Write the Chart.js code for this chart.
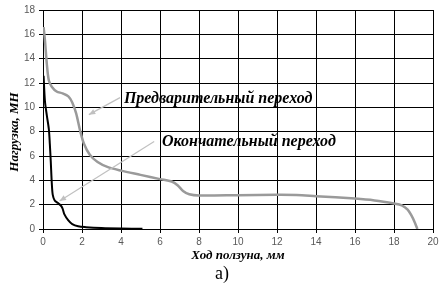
<!DOCTYPE html>
<html>
<head>
<meta charset="utf-8">
<script src="https://cdn.jsdelivr.net/npm/chart.js@4"></script>
<style>
  html, body { margin: 0; padding: 0; background: #fff; }
  #wrap { position: relative; width: 444px; height: 286px; }
</style>
</head>
<body>
<div id="wrap"><canvas id="chart" width="444" height="286"></canvas></div>
<script>
/* ── Data ─────────────────────────────────────────────────────────── */
// Предварительный переход (gray)
const prelimX = [0.03, 0.1, 0.2, 0.3, 0.45, 0.7, 1.0, 1.3, 1.5, 1.7, 1.9, 2.1, 2.4, 2.8, 3.3, 4.0, 5.0, 6.0, 6.6, 6.9, 7.2, 7.5, 8.0, 10, 12, 13, 14, 16, 17, 18, 18.4, 18.7, 18.9, 19.05, 19.2];
const prelimY = [16.6, 15.5, 13.5, 12.2, 11.7, 11.3, 11.15, 10.9, 10.4, 9.5, 8.1, 7.0, 6.1, 5.5, 5.1, 4.8, 4.45, 4.1, 3.9, 3.6, 3.1, 2.85, 2.75, 2.78, 2.82, 2.8, 2.7, 2.5, 2.35, 2.1, 1.95, 1.6, 1.1, 0.6, 0];

// Окончательный переход (black)
const finalX = [0.03, 0.1, 0.2, 0.3, 0.35, 0.4, 0.45, 0.5, 0.6, 0.75, 0.9, 1.0, 1.1, 1.3, 1.5, 1.8, 2.2, 3.0, 4.0, 5.1];
const finalY = [12.6, 10.5, 9.3, 8.2, 7.0, 5.5, 3.8, 2.8, 2.35, 2.15, 1.95, 1.7, 1.2, 0.7, 0.4, 0.22, 0.15, 0.08, 0.04, 0.02];

const xTicks = [0, 2, 4, 6, 8, 10, 12, 14, 16, 18, 20];
const yTicks = [0, 2, 4, 6, 8, 10, 12, 14, 16, 18];

// callouts: text anchor and arrow tail/head, in data units
const notes = [
  { text: "Предварительный переход", tx: 4.15, ty: 10.7, from: [3.95, 10.8], to: [2.35, 9.4] },
  { text: "Окончательный переход",   tx: 6.1,  ty: 7.2,  from: [5.7, 7.2],  to: [0.85, 2.3] },
];

const toPts = (xs, ys) => xs.map((x, i) => ({ x, y: ys[i] }));

/* ── Callouts, y title and caption ────────────────────────────────── */
const calloutPlugin = {
  id: "callouts",
  afterDatasetsDraw(chart) {
    const { ctx, scales: { x, y } } = chart;
    ctx.save();
    notes.forEach((n) => {
      const x1 = x.getPixelForValue(n.from[0]), y1 = y.getPixelForValue(n.from[1]);
      const x2 = x.getPixelForValue(n.to[0]),   y2 = y.getPixelForValue(n.to[1]);
      ctx.strokeStyle = "#c0c0c0";
      ctx.fillStyle = "#c0c0c0";
      ctx.lineWidth = 1.2;
      ctx.beginPath(); ctx.moveTo(x1, y1); ctx.lineTo(x2, y2); ctx.stroke();
      const a = Math.atan2(y2 - y1, x2 - x1);
      ctx.beginPath();
      ctx.moveTo(x2, y2);
      ctx.lineTo(x2 - 7 * Math.cos(a - 0.4), y2 - 7 * Math.sin(a - 0.4));
      ctx.lineTo(x2 - 7 * Math.cos(a + 0.4), y2 - 7 * Math.sin(a + 0.4));
      ctx.closePath(); ctx.fill();

      ctx.fillStyle = "#000";
      ctx.font = "italic bold 16px 'Liberation Serif'";
      ctx.textAlign = "left";
      ctx.textBaseline = "middle";
      ctx.fillText(n.text, x.getPixelForValue(n.tx), y.getPixelForValue(n.ty));
    });

    // y axis title
    ctx.fillStyle = "#000";
    ctx.font = "italic bold 13px 'Liberation Serif'";
    ctx.textAlign = "center";
    ctx.textBaseline = "middle";
    ctx.translate(15, 132);
    ctx.rotate(-Math.PI / 2);
    ctx.fillText("Нагрузка, МН", 0, 0);
    ctx.setTransform(1, 0, 0, 1, 0, 0);

    ctx.font = "18px 'Liberation Serif'";
    ctx.fillText("а)", 222, 274);
    ctx.restore();
  },
};

/* ── Chart ────────────────────────────────────────────────────────── */
const tickFont = { family: "'Liberation Sans'", size: 10 };
const titleFont = { family: "'Liberation Serif'", size: 13, style: "italic", weight: "bold" };

new Chart(document.getElementById("chart"), {
  type: "scatter",
  data: {
    datasets: [
      { data: toPts(prelimX, prelimY), showLine: true, borderColor: "#9a9a9a", borderWidth: 2.5, pointRadius: 0, tension: 0.3 },
      { data: toPts(finalX, finalY), showLine: true, borderColor: "#000", borderWidth: 2, pointRadius: 0, tension: 0.3 },
    ],
  },
  options: {
    responsive: false,
    animation: false,
    layout: { padding: { left: 0, right: 11, top: 7, bottom: 23 } },
    plugins: { legend: { display: false }, tooltip: { enabled: false } },
    scales: {
      x: {
        type: "linear", min: 0, max: 20,
        afterBuildTicks: (s) => { s.ticks = xTicks.map((v) => ({ value: v })); },
        afterFit: (s) => { s.height = 34; },
        grid: { color: "#000", lineWidth: 1, tickLength: 4, tickColor: "#000" },
        border: { color: "#000" },
        ticks: { font: tickFont, color: "#595959", padding: 3, maxRotation: 0 },
        title: { display: true, text: "Ход ползуна, мм", font: titleFont, color: "#000", padding: 0 },
      },
      y: {
        type: "linear", min: 0, max: 18,
        afterBuildTicks: (s) => { s.ticks = yTicks.map((v) => ({ value: v })); },
        afterFit: (s) => { s.width = 43; },
        grid: { color: "#000", lineWidth: 1, tickLength: 4, tickColor: "#000" },
        border: { color: "#000" },
        ticks: { font: tickFont, color: "#595959", padding: 4 },
      },
    },
  },
  plugins: [calloutPlugin],
});
</script>
</body>
</html>
